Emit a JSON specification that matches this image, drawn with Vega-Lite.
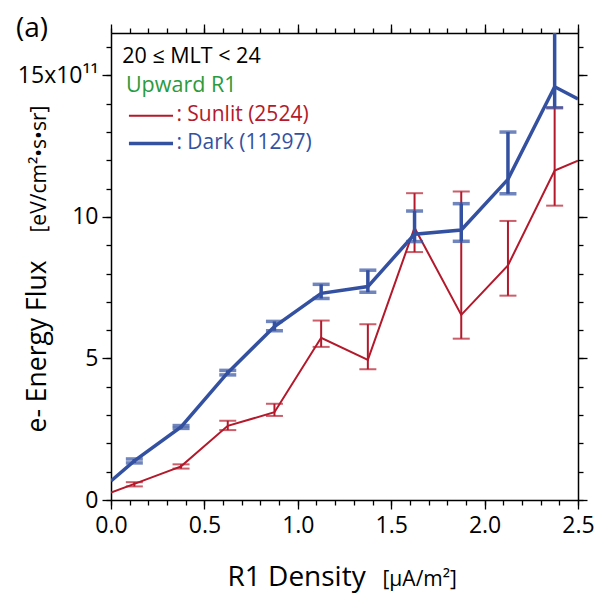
{
  "$schema": "https://vega.github.io/schema/vega-lite/v6.json",
  "width": 467,
  "height": 467,
  "autosize": {"type": "none"},
  "padding": {"left": 111, "top": 33, "right": 23, "bottom": 96},
  "background": "white",
  "title": {"text": "(a)", "anchor": "start", "frame": "group", "font": "Open Sans", "fontSize": 28, "fontWeight": "normal", "color": "black", "dx": -95, "dy": 22, "offset": 2},
  "config": {
    "view": {"stroke": null},
    "axis": {
      "grid": false,
      "domainColor": "black",
      "domainWidth": 1.5,
      "tickColor": "black",
      "tickWidth": 1.3,
      "labelColor": "black",
      "titleColor": "black",
      "labelFont": "Open Sans",
      "titleFont": "Open Sans",
      "labelFontSize": 23,
      "titleFontWeight": "normal",
      "labelFlush": false,
      "labelOverlap": false,
      "labelBound": false
    }
  },
  "datasets": {
    "dark": [
      {"x": 0, "y": 0.67}, {"x": 0.125, "y": 1.38}, {"x": 0.375, "y": 2.58}, {"x": 0.625, "y": 4.5},
      {"x": 0.875, "y": 6.13}, {"x": 1.125, "y": 7.3}, {"x": 1.375, "y": 7.54}, {"x": 1.625, "y": 9.39},
      {"x": 1.875, "y": 9.54}, {"x": 2.125, "y": 11.33}, {"x": 2.375, "y": 14.6}, {"x": 2.5, "y": 14.17}
    ],
    "sunlit": [
      {"x": 0, "y": 0.26}, {"x": 0.125, "y": 0.57}, {"x": 0.375, "y": 1.19}, {"x": 0.625, "y": 2.62},
      {"x": 0.875, "y": 3.1}, {"x": 1.125, "y": 5.73}, {"x": 1.375, "y": 4.95}, {"x": 1.625, "y": 9.62},
      {"x": 1.875, "y": 6.54}, {"x": 2.125, "y": 8.29}, {"x": 2.375, "y": 11.64}, {"x": 2.5, "y": 11.99}
    ],
    "darkerr": [
      {"x": 0.125, "lo": 1.31, "hi": 1.45}, {"x": 0.375, "lo": 2.53, "hi": 2.63}, {"x": 0.625, "lo": 4.42, "hi": 4.58},
      {"x": 0.875, "lo": 5.98, "hi": 6.31}, {"x": 1.125, "lo": 7.12, "hi": 7.62}, {"x": 1.375, "lo": 7.34, "hi": 8.12},
      {"x": 1.625, "lo": 9.13, "hi": 10.21}, {"x": 1.875, "lo": 9.14, "hi": 10.47}, {"x": 2.125, "lo": 10.82, "hi": 13.0},
      {"x": 2.375, "lo": 13.86, "hi": 17.5}
    ],
    "sunliterr": [
      {"x": 0.125, "lo": 0.48, "hi": 0.63}, {"x": 0.375, "lo": 1.11, "hi": 1.26}, {"x": 0.625, "lo": 2.47, "hi": 2.8},
      {"x": 0.875, "lo": 2.97, "hi": 3.4}, {"x": 1.125, "lo": 5.41, "hi": 6.34}, {"x": 1.375, "lo": 4.62, "hi": 6.21},
      {"x": 1.625, "lo": 8.76, "hi": 10.84}, {"x": 1.875, "lo": 5.7, "hi": 10.9}, {"x": 2.125, "lo": 7.22, "hi": 9.86},
      {"x": 2.375, "lo": 10.4, "hi": 13.86}
    ]
  },
  "resolve": {"axis": {"x": "independent", "y": "independent"}},
  "layer": [
    {
      "data": {"name": "sunlit"},
      "mark": {"type": "line", "color": "#b3192b", "strokeWidth": 2, "clip": true},
      "encoding": {
        "x": {"field": "x", "type": "quantitative", "scale": {"domain": [0, 2.5], "nice": false},
          "axis": {"orient": "bottom", "values": [0,0.1,0.2,0.3,0.4,0.5,0.6,0.7,0.8,0.9,1,1.1,1.2,1.3,1.4,1.5,1.6,1.7,1.8,1.9,2,2.1,2.2,2.3,2.4,2.5], "labels": false, "tickSize": 5, "domain": false,
            "title": "[μA/m²]", "titleFontSize": 21, "titleAlign": "left", "titleAnchor": null, "titleBaseline": "alphabetic", "titleX": 271, "titleY": 85}},
        "y": {"field": "y", "type": "quantitative", "scale": {"domain": [0, 16.5], "nice": false},
          "axis": {"orient": "left", "values": [0,1,2,3,4,5,6,7,8,9,10,11,12,13,14,15,16], "labels": false, "tickSize": 5, "domain": false,
            "title": "[eV/cm²•s•sr]", "titleFontSize": 21, "titleAlign": "left", "titleAnchor": null, "titleAngle": 270, "titleBaseline": "alphabetic", "titleX": -66, "titleY": 199}}
      }
    },
    {
      "data": {"name": "sunliterr"},
      "mark": {"type": "rule", "color": "#b3192b", "strokeWidth": 2, "clip": true},
      "encoding": {
        "x": {"field": "x", "type": "quantitative", "scale": {"domain": [0, 2.5], "nice": false},
          "axis": {"orient": "top", "values": [0, 0.5, 1, 1.5, 2, 2.5], "labels": false, "tickSize": 9, "title": null}},
        "y": {"field": "lo", "type": "quantitative", "scale": {"domain": [0, 16.5], "nice": false},
          "axis": {"orient": "right", "values": [0, 5, 10, 15], "labels": false, "tickSize": 9, "title": null}},
        "y2": {"field": "hi"}
      }
    },
    {
      "data": {"name": "sunliterr"},
      "mark": {"type": "tick", "orient": "horizontal", "color": "#b3192b", "size": 17, "thickness": 2, "clip": true},
      "encoding": {
        "x": {"field": "x", "type": "quantitative", "scale": {"domain": [0, 2.5], "nice": false},
          "axis": {"orient": "top", "values": [0,0.1,0.2,0.3,0.4,0.5,0.6,0.7,0.8,0.9,1,1.1,1.2,1.3,1.4,1.5,1.6,1.7,1.8,1.9,2,2.1,2.2,2.3,2.4,2.5], "labels": false, "tickSize": 5, "domain": false, "title": null}},
        "y": {"field": "lo", "type": "quantitative", "scale": {"domain": [0, 16.5], "nice": false},
          "axis": {"orient": "right", "values": [0,1,2,3,4,5,6,7,8,9,10,11,12,13,14,15,16], "labels": false, "tickSize": 5, "domain": false, "title": null}}
      }
    },
    {
      "data": {"name": "sunliterr"},
      "mark": {"type": "tick", "orient": "horizontal", "color": "#b3192b", "size": 17, "thickness": 2, "clip": true},
      "encoding": {
        "x": {"field": "x", "type": "quantitative", "scale": {"domain": [0, 2.5], "nice": false}, "axis": null},
        "y": {"field": "hi", "type": "quantitative", "scale": {"domain": [0, 16.5], "nice": false}, "axis": null}
      }
    },
    {
      "data": {"name": "dark"},
      "mark": {"type": "line", "color": "#3451a1", "strokeWidth": 3.5, "clip": true},
      "encoding": {
        "x": {"field": "x", "type": "quantitative", "scale": {"domain": [0, 2.5], "nice": false},
          "axis": {"orient": "bottom", "values": [0, 0.5, 1, 1.5, 2, 2.5], "format": ".1f", "tickSize": 9, "labelPadding": 5,
            "title": "R1 Density", "titleFontSize": 28, "titleAlign": "left", "titleAnchor": null, "titleBaseline": "alphabetic", "titleX": 116, "titleY": 85}},
        "y": {"field": "y", "type": "quantitative", "scale": {"domain": [0, 16.5], "nice": false},
          "axis": {"orient": "left", "values": [0, 5, 10, 15], "tickSize": 9, "labelPadding": 4,
            "labelExpr": "datum.value == 15 ? '15x10¹¹' : datum.label",
            "title": "e- Energy Flux", "titleFontSize": 26.5, "titleAlign": "left", "titleAnchor": null, "titleAngle": 270, "titleBaseline": "alphabetic", "titleX": -66, "titleY": 399}}
      }
    },
    {
      "data": {"name": "darkerr"},
      "mark": {"type": "rule", "color": "#3451a1", "strokeWidth": 3.5, "clip": true},
      "encoding": {
        "x": {"field": "x", "type": "quantitative", "scale": {"domain": [0, 2.5], "nice": false}, "axis": null},
        "y": {"field": "lo", "type": "quantitative", "scale": {"domain": [0, 16.5], "nice": false}, "axis": null},
        "y2": {"field": "hi"}
      }
    },
    {
      "data": {"name": "darkerr"},
      "mark": {"type": "tick", "orient": "horizontal", "color": "#3451a1", "size": 17, "thickness": 3.5, "clip": true},
      "encoding": {
        "x": {"field": "x", "type": "quantitative", "scale": {"domain": [0, 2.5], "nice": false}, "axis": null},
        "y": {"field": "lo", "type": "quantitative", "scale": {"domain": [0, 16.5], "nice": false}, "axis": null}
      }
    },
    {
      "data": {"name": "darkerr"},
      "mark": {"type": "tick", "orient": "horizontal", "color": "#3451a1", "size": 17, "thickness": 3.5, "clip": true},
      "encoding": {
        "x": {"field": "x", "type": "quantitative", "scale": {"domain": [0, 2.5], "nice": false}, "axis": null},
        "y": {"field": "hi", "type": "quantitative", "scale": {"domain": [0, 16.5], "nice": false}, "axis": null}
      }
    },
    {
      "data": {"values": [{"x": 0.06, "y": 15.65, "label": "20 ≤ MLT < 24"}]},
      "mark": {"type": "text", "align": "left", "baseline": "middle", "font": "Open Sans", "fontSize": 21.5, "color": "black"},
      "encoding": {
        "x": {"field": "x", "type": "quantitative", "scale": {"domain": [0, 2.5], "nice": false}, "axis": null},
        "y": {"field": "y", "type": "quantitative", "scale": {"domain": [0, 16.5], "nice": false}, "axis": null},
        "text": {"field": "label"}
      }
    },
    {
      "data": {"values": [{"x": 0.08, "y": 14.62, "label": "Upward R1"}]},
      "mark": {"type": "text", "align": "left", "baseline": "middle", "font": "Open Sans", "fontSize": 21.5, "color": "#2b9a3d"},
      "encoding": {
        "x": {"field": "x", "type": "quantitative", "scale": {"domain": [0, 2.5], "nice": false}, "axis": null},
        "y": {"field": "y", "type": "quantitative", "scale": {"domain": [0, 16.5], "nice": false}, "axis": null},
        "text": {"field": "label"}
      }
    },
    {
      "data": {"values": [{"x": 0.35, "y": 13.6, "label": ": Sunlit (2524)"}]},
      "mark": {"type": "text", "align": "left", "baseline": "middle", "font": "Open Sans", "fontSize": 21, "color": "#b3192b"},
      "encoding": {
        "x": {"field": "x", "type": "quantitative", "scale": {"domain": [0, 2.5], "nice": false}, "axis": null},
        "y": {"field": "y", "type": "quantitative", "scale": {"domain": [0, 16.5], "nice": false}, "axis": null},
        "text": {"field": "label"}
      }
    },
    {
      "data": {"values": [{"x": 0.35, "y": 12.62, "label": ": Dark (11297)"}]},
      "mark": {"type": "text", "align": "left", "baseline": "middle", "font": "Open Sans", "fontSize": 21, "color": "#3451a1"},
      "encoding": {
        "x": {"field": "x", "type": "quantitative", "scale": {"domain": [0, 2.5], "nice": false}, "axis": null},
        "y": {"field": "y", "type": "quantitative", "scale": {"domain": [0, 16.5], "nice": false}, "axis": null},
        "text": {"field": "label"}
      }
    },
    {
      "data": {"values": [{"x": 0.096, "x2": 0.332, "y": 13.58}]},
      "mark": {"type": "rule", "color": "#b3192b", "strokeWidth": 2},
      "encoding": {
        "x": {"field": "x", "type": "quantitative", "scale": {"domain": [0, 2.5], "nice": false}, "axis": null},
        "x2": {"field": "x2"},
        "y": {"field": "y", "type": "quantitative", "scale": {"domain": [0, 16.5], "nice": false}, "axis": null}
      }
    },
    {
      "data": {"values": [{"x": 0.096, "x2": 0.332, "y": 12.6}]},
      "mark": {"type": "rule", "color": "#3451a1", "strokeWidth": 3.5},
      "encoding": {
        "x": {"field": "x", "type": "quantitative", "scale": {"domain": [0, 2.5], "nice": false}, "axis": null},
        "x2": {"field": "x2"},
        "y": {"field": "y", "type": "quantitative", "scale": {"domain": [0, 16.5], "nice": false}, "axis": null}
      }
    }
  ]
}
